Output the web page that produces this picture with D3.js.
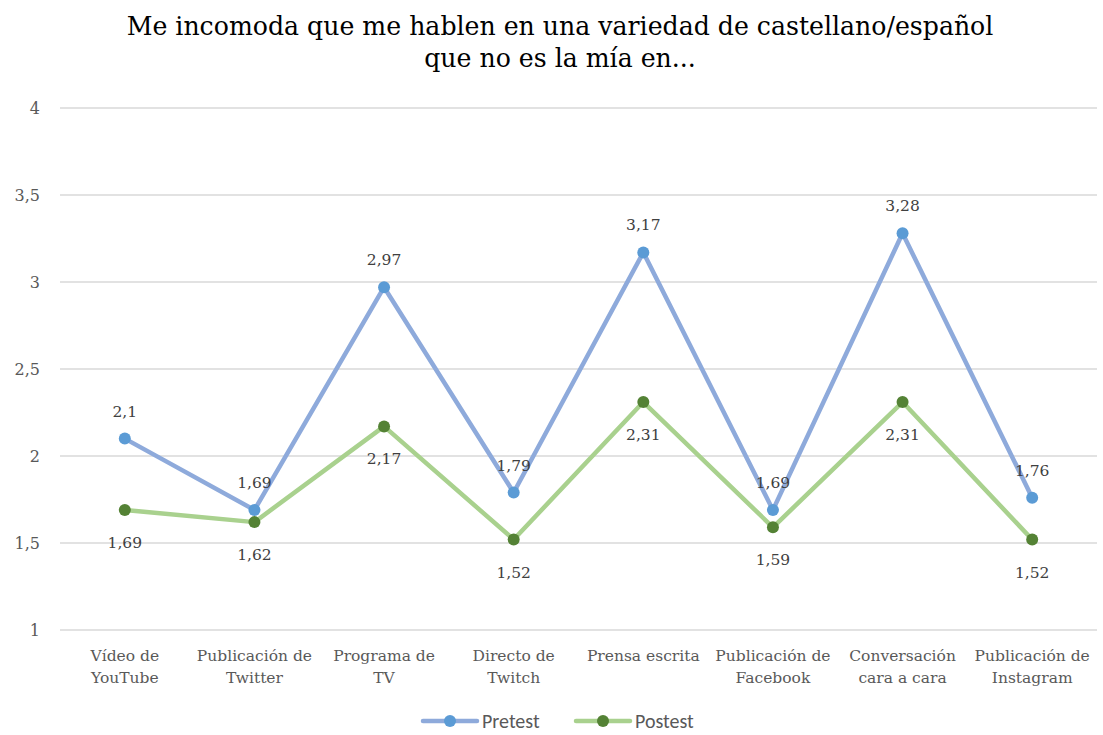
<meta charset="utf-8">
<script src="https://cdnjs.cloudflare.com/ajax/libs/d3/7.8.5/d3.min.js"></script>
<style>
    body { margin: 0; background: #fff; }
    .axis .domain, .axis .tick line { display: none; }
</style>
<svg width="1103" height="735"></svg>
<script>
    // chart data
    var categories = [
        ["Vídeo de", "YouTube"],
        ["Publicación de", "Twitter"],
        ["Programa de", "TV"],
        ["Directo de", "Twitch"],
        ["Prensa escrita"],
        ["Publicación de", "Facebook"],
        ["Conversación", "cara a cara"],
        ["Publicación de", "Instagram"]
    ];
    var pretest = [2.1, 1.69, 2.97, 1.79, 3.17, 1.69, 3.28, 1.76];
    var postest = [1.69, 1.62, 2.17, 1.52, 2.31, 1.59, 2.31, 1.52];
    var yTicks = [1, 1.5, 2, 2.5, 3, 3.5, 4];

    var serif = "'DejaVu Serif', serif";
    var svg = d3.select("svg"),
        margin = {top: 108, right: 6, bottom: 105, left: 60},
        width = +svg.attr("width") - margin.left - margin.right,
        height = +svg.attr("height") - margin.top - margin.bottom,
        g = svg.append("g").attr("transform", "translate(" + margin.left + "," + margin.top + ")");

    var x = d3.scaleBand().domain(d3.range(categories.length)).range([0, width]);
    var y = d3.scaleLinear().domain([1, 4]).range([height, 0]);
    var fmt = function(v) { return String(v).replace(".", ","); };

    // title
    var title = svg.append("text")
        .attr("x", 560).attr("y", 35)
        .attr("text-anchor", "middle")
        .attr("font-family", serif).attr("font-size", 25.2)
        .attr("fill", "#000");
    title.append("tspan").attr("x", 560).text("Me incomoda que me hablen en una variedad de castellano/español");
    title.append("tspan").attr("x", 560).attr("dy", 32).text("que no es la mía en...");

    // grid
    g.append("g").selectAll("line")
        .data(yTicks)
        .enter().append("line")
        .attr("x1", 0).attr("x2", width)
        .attr("y1", function(d) { return y(d); })
        .attr("y2", function(d) { return y(d); })
        .attr("stroke", "#d9d9d9").attr("stroke-width", 1.5);

    // y axis
    g.append("g")
        .attr("class", "axis")
        .call(d3.axisLeft(y).tickValues(yTicks).tickFormat(fmt).tickSize(0).tickPadding(20))
        .selectAll("text")
        .attr("font-family", serif).attr("font-size", 16).attr("fill", "#595959");

    // x axis labels
    var xl = g.append("g").selectAll("text")
        .data(categories)
        .enter().append("text")
        .attr("x", function(d, i) { return x(i) + x.bandwidth() / 2; })
        .attr("y", height + 31)
        .attr("text-anchor", "middle")
        .attr("font-family", serif).attr("font-size", 15.5).attr("fill", "#595959");
    xl.selectAll("tspan")
        .data(function(d) { return d; })
        .enter().append("tspan")
        .attr("x", function() { return d3.select(this.parentNode).attr("x"); })
        .attr("dy", function(d, i) { return i ? 22 : 0; })
        .text(function(d) { return d; });

    var series = [
        {name: "Pretest", values: pretest, line: "#8eaadb", dot: "#5b9bd5", dy: -22},
        {name: "Postest", values: postest, line: "#a9d18e", dot: "#548235", dy: 38}
    ];

    var line = d3.line()
        .x(function(d, i) { return x(i) + x.bandwidth() / 2; })
        .y(function(d) { return y(d); });

    series.forEach(function(s) {
        g.append("path")
            .datum(s.values)
            .attr("d", line)
            .attr("fill", "none")
            .attr("stroke", s.line).attr("stroke-width", 4.5)
            .attr("stroke-linejoin", "round").attr("stroke-linecap", "round");
    });
    series.forEach(function(s) {
        g.append("g").selectAll("circle")
            .data(s.values)
            .enter().append("circle")
            .attr("cx", function(d, i) { return x(i) + x.bandwidth() / 2; })
            .attr("cy", function(d) { return y(d); })
            .attr("r", 6)
            .attr("fill", s.dot);
        g.append("g").selectAll("text")
            .data(s.values)
            .enter().append("text")
            .attr("x", function(d, i) { return x(i) + x.bandwidth() / 2; })
            .attr("y", function(d) { return y(d) + s.dy; })
            .attr("text-anchor", "middle")
            .attr("font-family", serif).attr("font-size", 15.5).attr("fill", "#404040")
            .text(function(d) { return fmt(d); });
    });

    // legend
    var legend = svg.append("g").attr("transform", "translate(423,721)");
    var lg = legend.selectAll("g")
        .data(series)
        .enter().append("g")
        .attr("transform", function(d, i) { return "translate(" + (i * 153) + ",0)"; });
    lg.append("line")
        .attr("x1", 0).attr("x2", 54).attr("y1", 0).attr("y2", 0)
        .attr("stroke", function(d) { return d.line; }).attr("stroke-width", 4.5)
        .attr("stroke-linecap", "round");
    lg.append("circle").attr("cx", 27).attr("cy", 0).attr("r", 6)
        .attr("fill", function(d) { return d.dot; });
    lg.append("text")
        .attr("x", 59).attr("y", 7)
        .attr("font-family", "Carlito, 'Open Sans', sans-serif").attr("font-size", 20)
        .attr("fill", "#595959")
        .text(function(d) { return d.name; });
</script>
